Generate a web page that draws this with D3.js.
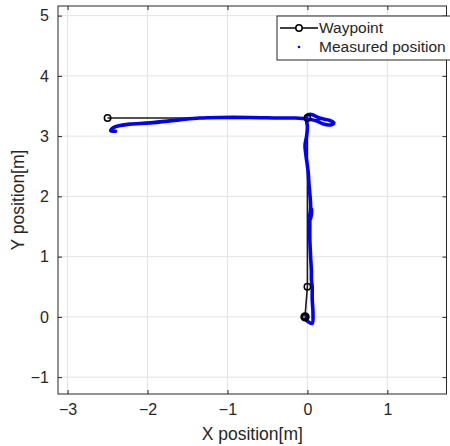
<!DOCTYPE html>
<html>
<head>
<meta charset="utf-8">
<script src="https://cdn.jsdelivr.net/npm/d3@7"></script>
<style>
body { margin: 0; background: #fff; }
text { font-family: "Liberation Sans", Arial, sans-serif; fill: #262626; }
</style>
</head>
<body>
<div class="chart_container"></div>
<script>
var width = 450
var height = 446

var xTicks = [-3, -2, -1, 0, 1]
var yTicks = [-1, 0, 1, 2, 3, 4, 5]

// waypoints [x, y]
var waypointX = [-0.03, 0, 0, -2.5]
var waypointY = [0, 0.5, 3.3, 3.3]

// measured trajectory
var measX = [0.0, -0.02, 0.02, 0.06, 0.07, 0.06, 0.06, 0.05, 0.05, 0.04, 0.03, 0.03, 0.03, 0.05, 0.05, 0.03, 0.04,
  0.02, 0.01, -0.02, -0.03, -0.01, 0.0, -0.01, 0.05, 0.15, 0.28, 0.33, 0.3, 0.2, 0.12, 0.02, -0.15, -0.35, -0.72,
  -1.1, -1.35, -1.6, -1.97, -2.22, -2.37, -2.43, -2.46, -2.4]
var measY = [0.0, -0.04, -0.09, -0.11, 0.05, 0.3, 0.5, 0.62, 0.75, 1.0, 1.3, 1.55, 1.7, 1.8, 1.7, 1.6, 1.85,
  2.2, 2.4, 2.7, 2.85, 3.0, 3.15, 3.34, 3.36, 3.3, 3.26, 3.22, 3.19, 3.2, 3.25, 3.28, 3.3, 3.3, 3.31,
  3.31, 3.3, 3.27, 3.22, 3.2, 3.17, 3.14, 3.09, 3.08]

var margin = {left: 58, top: 6, right: 3.5, bottom: 52}

var x = d3.scaleLinear().domain([-3.12, 1.74]).range([margin.left, width - margin.right])
var y = d3.scaleLinear().domain([-1.28, 5.16]).range([height - margin.bottom, margin.top])

var svg = d3.select(".chart_container").append("svg")
  .attr("width", width)
  .attr("height", height)

var x0 = x.range()[0], x1 = x.range()[1]
var y0 = y.range()[0], y1 = y.range()[1]

// grid
svg.append("g").selectAll("line").data(xTicks).enter().append("line")
  .attr("x1", x).attr("x2", x).attr("y1", y0).attr("y2", y1)
  .style("stroke", "#e3e3e3").style("stroke-width", 1)
svg.append("g").selectAll("line").data(yTicks).enter().append("line")
  .attr("y1", y).attr("y2", y).attr("x1", x0).attr("x2", x1)
  .style("stroke", "#e3e3e3").style("stroke-width", 1)

var fmt = function(d) { return d < 0 ? "\u2212" + (-d) : "" + d }

var axisBottom = d3.axisBottom(x).tickValues(xTicks).tickFormat(fmt).tickSizeInner(-4).tickSizeOuter(0).tickPadding(10)
var axisTop = d3.axisTop(x).tickValues(xTicks).tickFormat("").tickSizeInner(-4).tickSizeOuter(0)
var axisLeft = d3.axisLeft(y).tickValues(yTicks).tickFormat(fmt).tickSizeInner(-4).tickSizeOuter(0).tickPadding(9)
var axisRight = d3.axisRight(y).tickValues(yTicks).tickFormat("").tickSizeInner(-4).tickSizeOuter(0)

function styleAxis(g) {
  g.select(".domain").remove()
  g.selectAll("line").style("stroke", "#262626")
  g.selectAll("text").style("font-size", "16px").style("fill", "#262626")
    .style("font-family", "'Liberation Sans', Arial, sans-serif")
}

svg.append("g").attr("transform", "translate(0," + y0 + ")").call(axisBottom).call(styleAxis)
svg.append("g").attr("transform", "translate(0," + y1 + ")").call(axisTop).call(styleAxis)
svg.append("g").attr("transform", "translate(" + x0 + ",0)").call(axisLeft).call(styleAxis)
svg.append("g").attr("transform", "translate(" + x1 + ",0)").call(axisRight).call(styleAxis)

// waypoints
var waypoints = waypointX.map(function(d, i) { return {x: d, y: waypointY[i]} })
var line = d3.line().x(function(d) { return x(d.x) }).y(function(d) { return y(d.y) })

svg.append("path").datum(waypoints)
  .attr("d", line)
  .style("fill", "none").style("stroke", "#1a1a1a").style("stroke-width", 1.6)

// measured
var meas = measX.map(function(d, i) { return {x: d, y: measY[i]} })
svg.append("path").datum(meas)
  .attr("d", d3.line().curve(d3.curveCatmullRom).x(function(d) { return x(d.x) }).y(function(d) { return y(d.y) }))
  .style("fill", "none").style("stroke", "#0000ff").style("stroke-width", 3.6)
  .style("stroke-linejoin", "round").style("stroke-linecap", "round")

svg.append("g").selectAll("circle").data(waypoints).enter().append("circle")
  .attr("cx", function(d) { return x(d.x) })
  .attr("cy", function(d) { return y(d.y) })
  .attr("r", 3.2)
  .style("fill", "none")
  .style("stroke", "#000")
  .style("stroke-width", function(d, i) { return i === 0 ? 3 : 1.5 })

// box
svg.append("rect")
  .attr("x", x0).attr("y", y1).attr("width", x1 - x0).attr("height", y0 - y1)
  .style("fill", "none").style("stroke", "#262626").style("stroke-width", 1)

// legend
var leg = svg.append("g").attr("transform", "translate(277,16)")
leg.append("rect").attr("width", 180).attr("height", 44)
  .style("fill", "#fff").style("stroke", "#262626").style("stroke-width", 1)
leg.append("line").attr("x1", 3).attr("x2", 41).attr("y1", 12).attr("y2", 12)
  .style("stroke", "#000").style("stroke-width", 1.6)
leg.append("circle").attr("cx", 22).attr("cy", 12).attr("r", 3.2)
  .style("fill", "#fff").style("stroke", "#000").style("stroke-width", 1.5)
leg.append("circle").attr("cx", 22).attr("cy", 31).attr("r", 1.3).style("fill", "#0000ff")
leg.append("text").attr("x", 42).attr("y", 17).style("font-size", "15.5px").text("Waypoint")
leg.append("text").attr("x", 42).attr("y", 36).style("font-size", "15.5px").text("Measured position")

// axis labels
svg.append("text")
  .attr("x", (x0 + x1) / 2).attr("y", 440)
  .style("text-anchor", "middle").style("font-size", "17.5px")
  .text("X position[m]")

svg.append("text")
  .attr("transform", "translate(24," + ((y0 + y1) / 2) + ") rotate(-90)")
  .style("text-anchor", "middle").style("font-size", "17.5px")
  .text("Y position[m]")
</script>
</body>
</html>
